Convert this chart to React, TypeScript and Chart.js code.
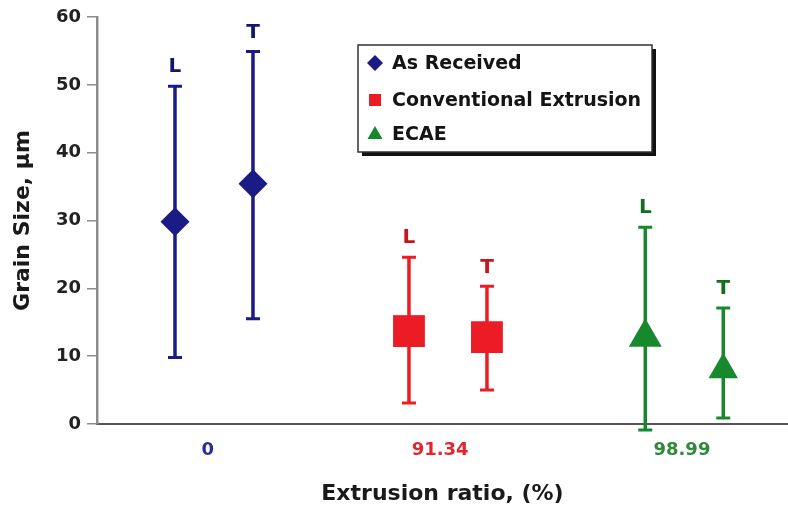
import React, { useEffect, useRef } from "react";
import { Chart, registerables } from "chart.js";

Chart.register(...registerables);

// ---- data ----
const categories = ["0", "91.34", "98.99"];
const categoryTickPositions = [1.42, 4.4, 7.5];
const categoryColors = ["#2b2b9a", "#e0262e", "#2e8a3a"];
const orientationLabels = ["L", "T"];
const seriesNames = ["As Received", "Conventional Extrusion", "ECAE"];

const asReceivedX = [1, 2];
const asReceivedMean = [29.8, 35.4];
const asReceivedLow = [9.8, 15.5];
const asReceivedHigh = [49.8, 54.9];

const conventionalX = [4, 5];
const conventionalMean = [13.7, 12.8];
const conventionalLow = [3.1, 5.0];
const conventionalHigh = [24.6, 20.3];

const ecaeX = [7.03, 8.03];
const ecaeMean = [12.8, 8.0];
const ecaeLow = [-0.9, 0.9];
const ecaeHigh = [29.0, 17.1];

const yMin = 0;
const yMax = 60;
const yStep = 10;
const xMin = 0;
const xMax = 8.86;

const FONT = "'DejaVu Sans', 'Liberation Sans', Arial, sans-serif";

const seriesColors = ["#1b1b85", "#ec1c24", "#17882c"];
const labelColors = ["#14146e", "#c8141e", "#146e22"];
const pointStyles = ["rectRot", "rect", "triangle"];

const lows = [asReceivedLow, conventionalLow, ecaeLow];
const highs = [asReceivedHigh, conventionalHigh, ecaeHigh];

const errorBarPlugin = {
  id: "errorBars",
  beforeDatasetsDraw(chart: any) {
    const ctx = chart.ctx;
    const yScale = chart.scales.y;
    chart.data.datasets.forEach((ds: any, di: number) => {
      const meta = chart.getDatasetMeta(di);
      meta.data.forEach((el: any, i: number) => {
        const x = el.x;
        const yl = yScale.getPixelForValue(lows[di][i]);
        const yh = yScale.getPixelForValue(highs[di][i]);
        ctx.save();
        ctx.strokeStyle = seriesColors[di];
        ctx.lineWidth = 3.5;
        ctx.lineCap = "butt";
        ctx.beginPath();
        ctx.moveTo(x, yl);
        ctx.lineTo(x, yh);
        ctx.stroke();
        ctx.lineWidth = 3;
        ctx.beginPath();
        ctx.moveTo(x - 7, yl);
        ctx.lineTo(x + 7, yl);
        ctx.moveTo(x - 7, yh);
        ctx.lineTo(x + 7, yh);
        ctx.stroke();
        ctx.restore();
      });
    });
  },
  afterDatasetsDraw(chart: any) {
    const ctx = chart.ctx;
    const yScale = chart.scales.y;
    chart.data.datasets.forEach((ds: any, di: number) => {
      const meta = chart.getDatasetMeta(di);
      meta.data.forEach((el: any, i: number) => {
        const yh = yScale.getPixelForValue(highs[di][i]);
        ctx.save();
        ctx.fillStyle = labelColors[di];
        ctx.font = `bold 20px ${FONT}`;
        ctx.textAlign = "center";
        ctx.textBaseline = "middle";
        ctx.fillText(orientationLabels[i], el.x, yh - 19);
        ctx.restore();
      });
    });
  },
};

const legendPlugin = {
  id: "boxLegend",
  afterDraw(chart: any) {
    const ctx = chart.ctx;
    const left = 358;
    const top = 45;
    const w = 294;
    const h = 107;
    ctx.save();
    ctx.fillStyle = "#111";
    ctx.fillRect(left + 4, top + 4, w, h);
    ctx.fillStyle = "#ffffff";
    ctx.fillRect(left, top, w, h);
    ctx.strokeStyle = "#333";
    ctx.lineWidth = 1.5;
    ctx.strokeRect(left, top, w, h);
    const rows = [top + 18, top + 55, top + 89];
    seriesNames.forEach((name, i) => {
      const cx = left + 17;
      const cy = rows[i];
      ctx.fillStyle = seriesColors[i];
      ctx.beginPath();
      if (i === 0) {
        ctx.moveTo(cx, cy - 8);
        ctx.lineTo(cx + 8, cy);
        ctx.lineTo(cx, cy + 8);
        ctx.lineTo(cx - 8, cy);
      } else if (i === 1) {
        ctx.rect(cx - 6, cy - 6, 12, 12);
      } else {
        ctx.moveTo(cx, cy - 8);
        ctx.lineTo(cx + 7.5, cy + 5);
        ctx.lineTo(cx - 7.5, cy + 5);
      }
      ctx.closePath();
      ctx.fill();
      ctx.fillStyle = "#141414";
      ctx.font = `bold 19px ${FONT}`;
      ctx.textAlign = "left";
      ctx.textBaseline = "middle";
      ctx.fillText(name, left + 34, cy + 1);
    });
    ctx.restore();
  },
};

export default function App() {
  const canvasRef = useRef<HTMLCanvasElement | null>(null);

  useEffect(() => {
    document.body.style.margin = "0";
    const canvas = canvasRef.current;
    if (!canvas) return;

    const makeData = (xs: number[], ys: number[]) =>
      xs.map((x, i) => ({ x, y: ys[i] }));

    const chart = new Chart(canvas, {
      type: "scatter",
      data: {
        datasets: [
          {
            label: seriesNames[0],
            data: makeData(asReceivedX, asReceivedMean),
            pointStyle: pointStyles[0] as any,
            pointRadius: 14.5,
            backgroundColor: seriesColors[0],
            borderColor: seriesColors[0],
            borderWidth: 0,
          },
          {
            label: seriesNames[1],
            data: makeData(conventionalX, conventionalMean),
            pointStyle: pointStyles[1] as any,
            pointRadius: 22.5,
            backgroundColor: seriesColors[1],
            borderColor: seriesColors[1],
            borderWidth: 0,
          },
          {
            label: seriesNames[2],
            data: makeData(ecaeX, ecaeMean),
            pointStyle: pointStyles[2] as any,
            pointRadius: [19, 17] as any,
            backgroundColor: seriesColors[2],
            borderColor: seriesColors[2],
            borderWidth: 0,
          },
        ],
      },
      options: {
        animation: false,
        responsive: false,
        devicePixelRatio: 1,
        layout: {
          autoPadding: false,
          padding: { top: 17, right: 0, left: 0, bottom: 0 },
        },
        plugins: {
          legend: { display: false },
          tooltip: { enabled: false },
        },
        scales: {
          x: {
            type: "linear",
            min: xMin,
            max: xMax,
            afterBuildTicks(scale: any) {
              scale.ticks = categoryTickPositions.map((v) => ({ value: v }));
            },
            afterFit(scale: any) {
              scale.height = 89;
              scale.paddingLeft = 0;
              scale.paddingRight = 0;
            },
            grid: { display: false, drawTicks: false },
            border: { display: true, color: "#555", width: 2 },
            ticks: {
              autoSkip: false,
              maxRotation: 0,
              padding: 16,
              font: { family: FONT, size: 18, weight: "bold" },
              color: (c: any) => categoryColors[c.index] || "#222",
              callback: (_v: any, i: number) => categories[i],
            },
            title: {
              display: true,
              text: "Extrusion ratio, (%)",
              color: "#1a1a1a",
              font: { family: FONT, size: 22, weight: "bold" },
              padding: { top: 0, bottom: 6 },
            },
          },
          y: {
            type: "linear",
            min: yMin,
            max: yMax,
            afterFit(scale: any) {
              scale.width = 97;
            },
            ticks: {
              stepSize: yStep,
              padding: 6,
              color: "#222",
              font: { family: FONT, size: 18, weight: "bold" },
            },
            grid: {
              drawOnChartArea: false,
              drawTicks: true,
              tickLength: 10,
              color: "#8c8c8c",
              lineWidth: 1.5,
            },
            border: { display: true, color: "#8c8c8c", width: 2.5 },
            title: {
              display: true,
              text: "Grain Size, µm",
              color: "#1a1a1a",
              font: { family: FONT, size: 22, weight: "bold" },
              padding: { top: 10, bottom: 0 },
            },
          },
        },
      },
      plugins: [errorBarPlugin, legendPlugin],
    });

    return () => chart.destroy();
  }, []);

  return (
    <div style={{ width: 788, height: 513, background: "#fff" }}>
      <canvas ref={canvasRef} width={788} height={513} />
    </div>
  );
}
